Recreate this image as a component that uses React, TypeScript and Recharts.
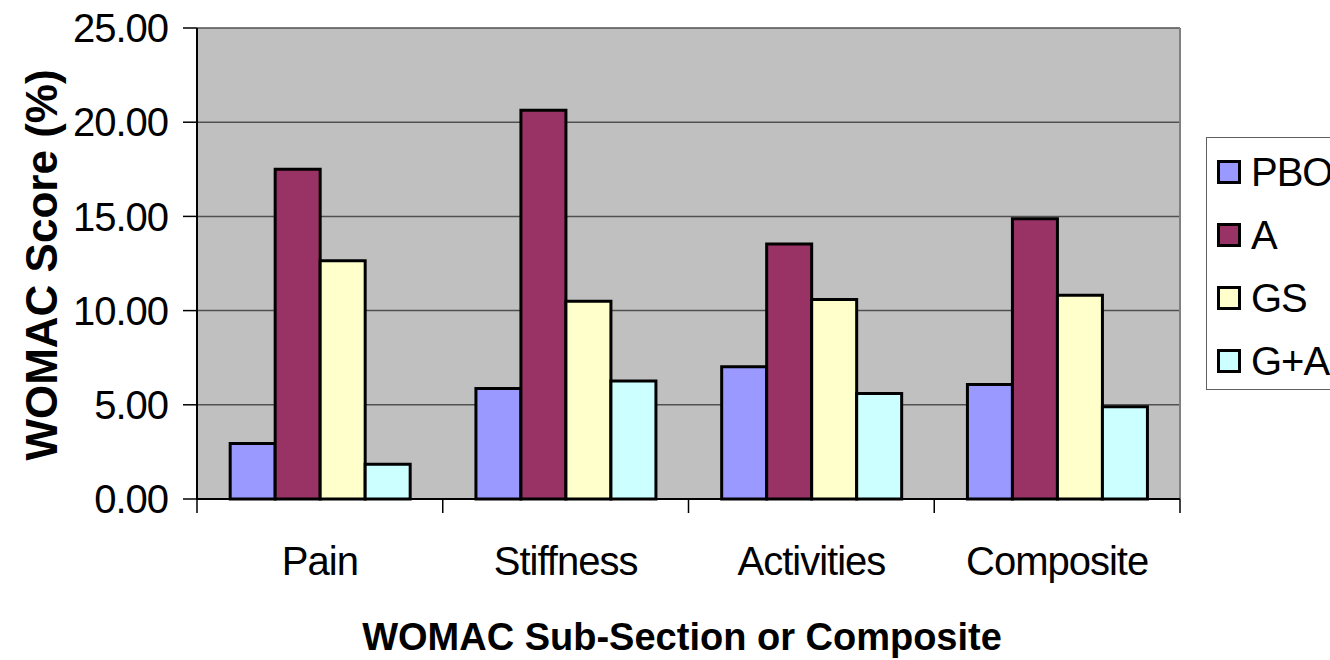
import React from 'react';
import { Bar, BarChart, CartesianGrid, XAxis, YAxis } from 'recharts';

const categories = ['Pain', 'Stiffness', 'Activities', 'Composite'];
const pbo = [2.95, 5.87, 7.02, 6.08];
const a = [17.5, 20.64, 13.53, 14.87];
const gs = [12.64, 10.5, 10.59, 10.82];
const ga = [1.84, 6.26, 5.6, 4.9];
const yTicks = [0, 5, 10, 15, 20, 25];

const series = [
  { key: 'pbo', name: 'PBO', color: '#9999ff', values: pbo },
  { key: 'a', name: 'A', color: '#993366', values: a },
  { key: 'gs', name: 'GS', color: '#ffffcc', values: gs },
  { key: 'ga', name: 'G+A', color: '#ccffff', values: ga },
];

const data = categories.map((name, i) => {
  const row: Record<string, string | number> = { name };
  series.forEach((s) => {
    row[s.key] = s.values[i];
  });
  return row;
});

const W = 1330;
const H = 660;
const PLOT_LEFT = 197;
const PLOT_RIGHT = 1180;
const PLOT_TOP = 28;
const PLOT_BOTTOM = 499;
const BAND = (PLOT_RIGHT - PLOT_LEFT) / categories.length;
const FONT = '"Liberation Sans", Arial, sans-serif';

function CategoryTick(props: any) {
  const { x, payload, index } = props;
  const left = x - BAND / 2;
  return (
    <g>
      <line x1={left} x2={left} y1={PLOT_BOTTOM} y2={PLOT_BOTTOM + 14} stroke="#000" strokeWidth={1.5} />
      {index === categories.length - 1 && (
        <line
          x1={x + BAND / 2}
          x2={x + BAND / 2}
          y1={PLOT_BOTTOM}
          y2={PLOT_BOTTOM + 14}
          stroke="#000"
          strokeWidth={1.5}
        />
      )}
      <text
        x={x}
        y={PLOT_BOTTOM + 76}
        textAnchor="middle"
        fontSize={40}
        letterSpacing={-1}
        fontFamily={FONT}
        fill="#000"
      >
        {payload.value}
      </text>
    </g>
  );
}

function LegendBox() {
  return (
    <div
      style={{
        position: 'absolute',
        left: 1206,
        top: 137,
        width: 150,
        height: 253,
        border: '1px solid #606060',
        boxSizing: 'border-box',
        paddingTop: 2,
        fontFamily: FONT,
        fontSize: 40,
        letterSpacing: -1,
        background: '#fff',
      }}
    >
      {series.map((s) => (
        <div key={s.key} style={{ height: 63, display: 'flex', alignItems: 'center' }}>
          <span
            style={{
              display: 'inline-block',
              width: 24,
              height: 24,
              marginLeft: 10,
              marginRight: 10,
              boxSizing: 'border-box',
              border: '3px solid #000',
              background: s.color,
            }}
          />
          <span style={{ lineHeight: 1 }}>{s.name}</span>
        </div>
      ))}
    </div>
  );
}

export default function App() {
  return (
    <div
      style={{
        position: 'absolute',
        left: 0,
        top: 0,
        width: W,
        height: H,
        overflow: 'hidden',
        background: '#fff',
      }}
    >
      <BarChart
        width={W}
        height={H}
        data={data}
        margin={{ top: PLOT_TOP, right: W - PLOT_RIGHT, bottom: 0, left: 0 }}
        barCategoryGap="13.5%"
        barGap={0}
      >
        <CartesianGrid vertical={false} stroke="#505050" strokeWidth={1.5} fill="#c0c0c0" fillOpacity={1} />
        <CartesianGrid horizontal={false} verticalPoints={[PLOT_RIGHT]} stroke="#808080" strokeWidth={2} />
        <XAxis
          dataKey="name"
          height={H - PLOT_BOTTOM}
          axisLine={{ stroke: '#000', strokeWidth: 2 }}
          tickLine={false}
          tick={<CategoryTick />}
          interval={0}
          label={{
            content: () => (
              <text
                x={682}
                y={650}
                textAnchor="middle"
                fontSize={38}
                fontWeight="bold"
                fontFamily={FONT}
                fill="#000"
              >
                WOMAC Sub-Section or Composite
              </text>
            ),
          }}
        />
        <YAxis
          width={PLOT_LEFT}
          domain={[0, 25]}
          ticks={yTicks}
          interval={0}
          tickFormatter={(v: number) => v.toFixed(2)}
          axisLine={{ stroke: '#000', strokeWidth: 2 }}
          tickLine={{ stroke: '#000', strokeWidth: 1.5 }}
          tickSize={14}
          tickMargin={15}
          tick={{ fontSize: 40, letterSpacing: -1, fontFamily: FONT, fill: '#000' }}
          label={{
            content: () => (
              <text
                x={41}
                y={265}
                transform="rotate(-90 41 265)"
                textAnchor="middle"
                dominantBaseline="central"
                fontSize={44}
                fontWeight="bold"
                fontFamily={FONT}
                fill="#000"
              >
                WOMAC Score (%)
              </text>
            ),
          }}
        />
        {series.map((s) => (
          <Bar
            key={s.key}
            dataKey={s.key}
            name={s.name}
            fill={s.color}
            stroke="#000"
            strokeWidth={3}
            isAnimationActive={false}
          />
        ))}
      </BarChart>
      <LegendBox />
    </div>
  );
}
